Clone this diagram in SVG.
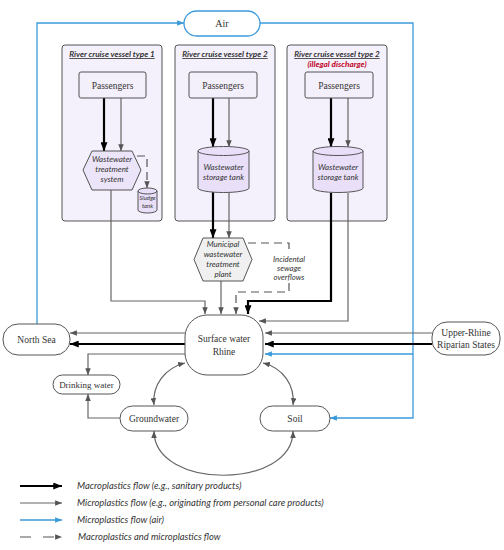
<svg xmlns="http://www.w3.org/2000/svg" width="504" height="550" viewBox="0 0 504 550">
<defs>
<style>
.box{fill:#f4f0fc;stroke:#555;stroke-width:1}
.pass{fill:#f3effb;stroke:#555;stroke-width:1}
.node{fill:#fff;stroke:#555;stroke-width:1}
.cyl{fill:#e9dff8;stroke:#555;stroke-width:1}
.hex{fill:#ece4f8;stroke:#555;stroke-width:1}
.mhex{fill:#f0f0f0;stroke:#555;stroke-width:1}
.serif{font-family:"Liberation Serif","Times New Roman",serif;fill:#333;text-anchor:middle}
.it{font-family:Lato,"Liberation Sans",sans-serif;font-style:italic;fill:#333;text-anchor:middle}
.title{font-family:Lato,"Liberation Sans",sans-serif;font-style:italic;font-weight:bold;fill:#333;text-anchor:middle;text-decoration:underline;font-size:8.2px}
.leg{font-family:Lato,"Liberation Sans",sans-serif;font-style:italic;fill:#333;font-size:9.4px}
.thick{fill:none;stroke:#000;stroke-width:2.2;marker-end:url(#ab)}
.thin{fill:none;stroke:#666;stroke-width:1.2;marker-end:url(#ag)}
.blue{fill:none;stroke:#3b9ad9;stroke-width:1.3}
.dash{fill:none;stroke:#555;stroke-width:1.2;stroke-dasharray:8 5}
</style>
<marker id="ab" viewBox="0 0 10 8" refX="10" refY="4" markerWidth="9" markerHeight="7" markerUnits="userSpaceOnUse" orient="auto-start-reverse"><path d="M0,0 L10,4 L0,8 z" fill="#000"/></marker>
<marker id="ag" viewBox="0 0 10 8" refX="10" refY="4" markerWidth="7" markerHeight="5.5" markerUnits="userSpaceOnUse" orient="auto-start-reverse"><path d="M0,0 L10,4 L0,8 z" fill="#555"/></marker>
<marker id="abl" viewBox="0 0 10 8" refX="10" refY="4" markerWidth="7" markerHeight="5.5" markerUnits="userSpaceOnUse" orient="auto-start-reverse"><path d="M0,0 L10,4 L0,8 z" fill="#3b9ad9"/></marker>
</defs>
<rect width="504" height="550" fill="#fff"/>

<g id="vessel1">
<rect class="box" x="62" y="45" width="100" height="176" rx="3"/>
<text class="title" x="112" y="57">River cruise vessel type 1</text>
</g>
<g id="vessel2">
<rect class="box" x="175" y="45" width="100" height="176" rx="3"/>
<text class="title" x="225" y="57">River cruise vessel type 2</text>
</g>
<g id="vessel3">
<rect class="box" x="287" y="45" width="100" height="176" rx="3"/>
<text class="title" x="337" y="57">River cruise vessel type 2</text>
<text class="title" x="337" y="67" style="fill:#c0001a;text-decoration:none">(illegal discharge)</text>
</g>

<g id="connectors">
<path class="blue" d="M37,324 V23 H184" marker-end="url(#abl)"/>
<path class="blue" d="M260,23 H413 V418 H330" marker-end="url(#abl)"/>
<path class="blue" d="M413,354 H265" marker-end="url(#abl)"/>
<path class="thick" d="M104,98 V151"/>
<path class="thin" d="M121,98 V151"/>
<path class="dash" d="M137,156 H147 V188" marker-end="url(#ag)"/>
<path class="thin" d="M111,190 V301 H205 V314"/>
<path class="thick" d="M213,98 V147"/>
<path class="thin" d="M229,98 V147"/>
<path class="thick" d="M213,192 V238"/>
<path class="thin" d="M229,192 V238"/>
<path class="thin" d="M221,281 V314"/>
<path class="dash" d="M248,243 H289 V252"/>
<path class="dash" d="M289,283 V292 H236 V314" marker-end="url(#ag)"/>
<path class="thick" d="M331,98 V147"/>
<path class="thin" d="M348,98 V147"/>
<path class="thick" d="M331,193 V301 H248 V314"/>
<path class="thin" d="M348,193 V321 H259"/>
<path class="thin" d="M185,333 H70"/>
<path class="thick" d="M185,344 H70"/>
<path class="thin" d="M185,354 H88 V375"/>
<path class="thin" d="M120,418 H88 V394"/>
<path class="thin" d="M432,333 H265"/>
<path class="thick" d="M432,344 H265"/>
<path class="thin" d="M154,405 C152,385 165,368 185,363" marker-start="url(#ag)"/>
<path class="thin" d="M293,405 C295,385 283,368 263,363" marker-start="url(#ag)"/>
<path class="thin" d="M154,431 C154,490 293,490 293,431" marker-start="url(#ag)"/>
</g>

<g id="air">
<rect x="184" y="11" width="76" height="25" rx="12.5" fill="#fff" stroke="#3b9ad9" stroke-width="1.3"/>
<text class="serif" x="222" y="27" font-size="10">Air</text>
</g>

<g id="passengers1">
<rect class="pass" x="79" y="72" width="67" height="26" rx="2"/>
<text class="serif" x="112.5" y="88.5" font-size="9.5">Passengers</text>
</g>
<g id="passengers2">
<rect class="pass" x="189" y="72" width="68" height="26" rx="2"/>
<text class="serif" x="223" y="88.5" font-size="9.5">Passengers</text>
</g>
<g id="passengers3">
<rect class="pass" x="305" y="72" width="68" height="26" rx="2"/>
<text class="serif" x="339" y="88.5" font-size="9.5">Passengers</text>
</g>

<g id="wwts">
<polygon class="hex" points="83,170 92,151 132,151 141,170 132,190 92,190"/>
<text class="it" x="112" y="162" font-size="8">Wastewater</text>
<text class="it" x="112" y="172" font-size="8">treatment</text>
<text class="it" x="112" y="182" font-size="8">system</text>
</g>

<g id="sludge">
<path class="cyl" d="M138,191 A9.5,3 0 0 1 157,191 V210 A9.5,3 0 0 1 138,210 Z"/>
<path d="M138,191 A9.5,3 0 0 0 157,191" fill="none" stroke="#555"/>
<text class="it" x="147.5" y="200" font-size="6">Sludge</text>
<text class="it" x="147.5" y="208" font-size="6">tank</text>
</g>

<g id="tank2">
<path class="cyl" d="M198,151 A25.5,4.5 0 0 1 249,151 V188 A25.5,4.5 0 0 1 198,188 Z"/>
<path d="M198,151 A25.5,4.5 0 0 0 249,151" fill="none" stroke="#555"/>
<text class="it" x="223.5" y="170" font-size="8">Wastewater</text>
<text class="it" x="223.5" y="180" font-size="8">storage tank</text>
</g>

<g id="tank3">
<path class="cyl" d="M313,151 A25,4.5 0 0 1 363,151 V188 A25,4.5 0 0 1 313,188 Z"/>
<path d="M313,151 A25,4.5 0 0 0 363,151" fill="none" stroke="#555"/>
<text class="it" x="338" y="170" font-size="8">Wastewater</text>
<text class="it" x="338" y="180" font-size="8">storage tank</text>
</g>

<g id="municipal">
<polygon class="mhex" points="194,259.5 203,238 243,238 252,259.5 243,281 203,281"/>
<text class="it" x="223" y="247" font-size="8">Municipal</text>
<text class="it" x="223" y="257" font-size="8">wastewater</text>
<text class="it" x="223" y="267" font-size="8">treatment</text>
<text class="it" x="223" y="277" font-size="8">plant</text>
</g>

<g id="overflows">
<text class="it" x="289" y="262" font-size="7.8">Incidental</text>
<text class="it" x="289" y="271" font-size="7.8">sewage</text>
<text class="it" x="289" y="280" font-size="7.8">overflows</text>
</g>

<g id="surface">
<rect class="node" x="185" y="315" width="78" height="60" rx="22"/>
<text class="serif" x="224" y="342" font-size="9.5">Surface water</text>
<text class="serif" x="224" y="355" font-size="9.5">Rhine</text>
</g>

<g id="northsea">
<rect class="node" x="3" y="324" width="67" height="31" rx="15"/>
<text class="serif" x="36.5" y="343" font-size="9.5">North Sea</text>
</g>

<g id="upperrhine">
<rect class="node" x="432" y="322" width="68" height="33" rx="15"/>
<text class="serif" x="466" y="335.5" font-size="9.5">Upper-Rhine</text>
<text class="serif" x="466" y="347.5" font-size="9.5">Riparian States</text>
</g>

<g id="drinking">
<rect class="node" x="53" y="375" width="67" height="19" rx="9.5"/>
<text class="serif" x="86.5" y="387.5" font-size="9">Drinking water</text>
</g>

<g id="groundwater">
<rect class="node" x="120" y="406" width="68" height="25" rx="12.5"/>
<text class="serif" x="154" y="421.5" font-size="9.5">Groundwater</text>
</g>

<g id="soil">
<rect class="node" x="260" y="406" width="70" height="25" rx="12.5"/>
<text class="serif" x="295" y="421.5" font-size="9.5">Soil</text>
</g>

<g id="legend">
<path class="thick" d="M20,486 H62"/>
<text class="leg" x="77" y="489">Macroplastics flow (e.g., sanitary products)</text>
<path class="thin" d="M20,503 H62"/>
<text class="leg" x="77" y="506">Microplastics flow (e.g., originating from personal care products)</text>
<path class="blue" d="M20,520 H62" marker-end="url(#abl)"/>
<text class="leg" x="77" y="523">Microplastics flow (air)</text>
<path fill="none" stroke="#555" stroke-width="1.2" stroke-dasharray="11 12" d="M20,537 H62" marker-end="url(#ag)"/>
<text class="leg" x="78" y="540">Macroplastics and microplastics flow</text>
</g>
</svg>
